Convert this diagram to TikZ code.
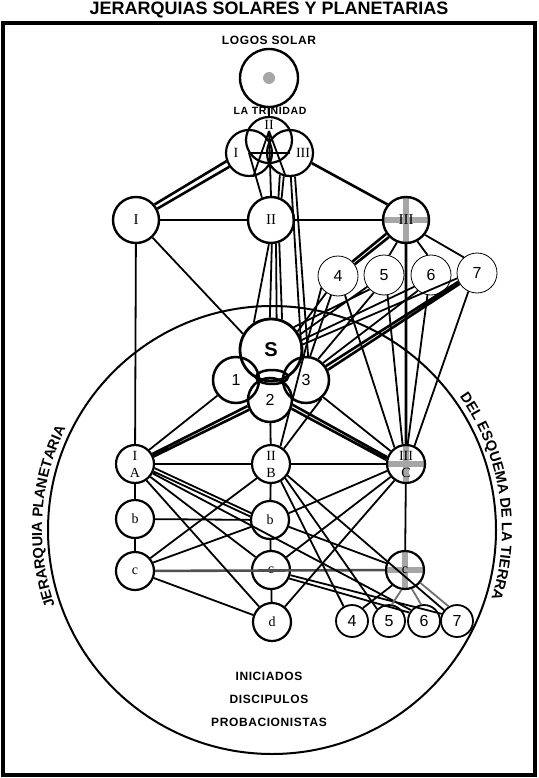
\documentclass[tikz,border=0pt]{standalone}
\usepackage{fontspec}
\setmainfont{Liberation Serif}
\setsansfont{Liberation Sans}
\usetikzlibrary{shapes.geometric,decorations.text}

\definecolor{crossgray}{HTML}{A6A6A6}
\definecolor{heavygray}{HTML}{505050}
\definecolor{softgray}{HTML}{707070}

\tikzset{
  ring/.style={circle, draw, inner sep=0pt},
  hier/.style={ring, line width=2.4pt, minimum size=46pt, font=\fontsize{15}{15}\selectfont},
  trin/.style={ring, line width=2.2pt, minimum size=46pt},
  trinlabel/.style={font=\fontsize{14}{14}\selectfont, inner sep=0pt},
  ray/.style={ring, line width=0.8pt, minimum size=40pt, font=\sffamily\fontsize{16}{16}\selectfont},
  solar/.style={ring, line width=2.5pt, minimum size=46pt, font=\sffamily\fontsize{16}{16}\selectfont},
  plan/.style={ring, line width=2.2pt, minimum size=38pt, align=center, font=\fontsize{14}{17}\selectfont},
  sub/.style={ring, line width=1.8pt, minimum size=32pt, font=\sffamily\fontsize{16}{16}\selectfont},
  crossed/.style={path picture={\draw[crossgray, line width=6.5pt]
      (path picture bounding box.north) -- (path picture bounding box.south)
      (path picture bounding box.west) -- (path picture bounding box.east);}},
  caption/.style={font=\sffamily\bfseries\fontsize{12}{12}\selectfont\addfontfeatures{LetterSpace=5}},
  conn/.style={line width=1.8pt},
  thickconn/.style={line width=2.6pt},
  arctext/.style={decorate, decoration={text along path, text align=center,
      text={|\sffamily\bfseries\fontsize{14.5}{14.5}\selectfont|#1}}}
}

\begin{document}
\begin{tikzpicture}[x=1pt, y=1pt]
\useasboundingbox (0,0) rectangle (538,-778);

% title and frame
\node[font=\sffamily\bfseries\fontsize{18}{20}\selectfont, inner sep=0pt] (title) at (269,-10) {JERARQUIAS SOLARES Y PLANETARIAS};
\draw[line width=3.2pt] (3,-23) rectangle (535,-775);

% solar level
\node[caption] (logoslbl) at (269,-40) {LOGOS SOLAR};
\node[ring, line width=2.4pt, minimum size=58pt] (logos) at (269,-78) {};
\node[circle, fill=crossgray, minimum size=12pt, inner sep=0pt] (core) at (logos) {};
\node[caption, font=\sffamily\bfseries\fontsize{10.5}{10.5}\selectfont\addfontfeatures{LetterSpace=6}] (trinlbl) at (270,-111) {LA TRINIDAD};
\node[trin, label={[trinlabel, yshift=15pt]center:II}] (tII) at (269,-140) {};
\node[trin, label={[trinlabel, xshift=-13pt]center:I}] (tI) at (249,-153) {};
\node[trin, label={[trinlabel, xshift=13pt]center:III}] (tIII) at (290,-153) {};
\coordinate (apex) at (269,-131);

\node[hier] (sI) at (136,-220) {I};
\node[hier] (sII) at (271,-220) {II};
\node[hier, crossed] (sIII) at (406,-220) {III};

\node[ray] (n4) at (338,-276) {4};
\node[ray] (n5) at (384,-275) {5};
\node[ray] (n6) at (431,-275) {6};
\node[ray] (n7) at (477,-273) {7};

% planetary scheme
\coordinate (sc) at (272,-530);
\draw[line width=2pt] (sc) circle[radius=224pt];
\path[arctext={JERARQUIA PLANETARIA}] ([shift={(202:230pt)}]sc) arc[start angle=202, end angle=151, radius=230pt];
\path[arctext={DEL ESQUEMA DE LA TIERRA}] ([shift={(36:230pt)}]sc) arc[start angle=36, end angle=-18, radius=230pt];

\node[solar, line width=2.8pt, minimum size=62pt, font=\sffamily\bfseries\fontsize{20}{20}\selectfont] (S) at (271,-350) {S};
\node[solar] (c1) at (236,-380) {1};
\node[solar] (c3) at (306,-380) {3};
\node[solar, minimum size=44pt] (c2) at (270,-400) {2};
\node[draw, ellipse, line width=2.5pt, minimum width=32pt, minimum height=14pt, inner sep=0pt] (knot) at (272,-377) {};

\node[plan] (pI) at (135,-464) {I\\A};
\node[plan] (pII) at (271,-464) {II\\B};
\node[plan, crossed] (pIII) at (406,-464) {III\\C};
\node[plan] (pb1) at (135,-519) {b};
\node[plan] (pb2) at (270,-520) {b};
\node[plan] (pc1) at (135,-571) {c};
\node[plan] (pc2) at (271,-570) {c};
\node[plan, crossed] (pc3) at (405,-570) {c};
\node[plan] (pd) at (272,-622) {d};
\node[sub] (q4) at (352,-621) {4};
\node[sub] (q5) at (389,-621) {5};
\node[sub] (q6) at (424,-621) {6};
\node[sub] (q7) at (457,-621) {7};

\node[caption] (ini) at (269,-676) {INICIADOS};
\node[caption] (disc) at (269,-699) {DISCIPULOS};
\node[caption] (prob) at (269,-722) {PROBACIONISTAS};

% trinity
\draw[thickconn] (logos.south) -- (tII.north);
\draw[conn] (apex) -- (tI.-80) (apex) -- (tIII.-100) (apex) -- (sII.north);
\draw[conn] (tI.center) -- (tIII.center);
\draw[conn] (tI.center) -- (sII.112);
\draw[conn] (tIII.-115) -- (sII.72) (tIII.-105) -- (sII.64);
\draw[conn] (tIII.-88) -- (c3.100) (tIII.-78) -- (c3.85);
\draw[thickconn] (tI.200) -- (sI.40) (tI.215) -- (sI.28);
\draw[thickconn] (tIII.-25) -- (sIII.140);

% solar hierarchy
\draw[conn] (sI) -- (sII) (sII) -- (sIII) (sI) -- (pI) (sI) -- (S.150);
\draw[conn] (sII.-95) -- (S.122) (sII.-88) -- (S.92) (sII.-78) -- (S.80) (sII.-70) -- (S.70);
\draw[thickconn] (sIII.215) -- (n4.45) (sIII.225) -- (n4.35) (sIII) -- (pIII);
\draw[conn] (sIII.-112) -- (n5.75) (sIII.-62) -- (n6.100) (sIII.-38) -- (n7.130);

% rays
\draw[conn] (n4.235) -- (S.35) (n4.250) -- (c3.80) (n4.215) -- (pII.62) (n4.-70) -- (pIII.125);
\draw[conn] (n5.225) -- (S.45) (n5.215) -- (S.28) (n5.240) -- (c3.60) (n5.-80) -- (pIII.100);
\draw[conn] (n6.215) -- (S.18) (n6.230) -- (c3.45) (n6.-100) -- (pIII.85);
\draw[thickconn] (n7.205) -- (c3.35) (n7.212) -- (c3.25);
\draw[conn] (n7.195) -- (S.10) (n7.-115) -- (pIII.65);

% solar centre to planetary level
\draw[conn] (c1.-140) -- (pI.45) (c2) -- (pII) (c3.-50) -- (pII.50) (c3.-45) -- (pIII.140);
\draw[thickconn] (c2.195) -- (pI.30) (c2.205) -- (pI.22) (c2.-12) -- (pIII.160) (c2.-22) -- (pIII.168);

% planetary hierarchy
\draw[conn] (pI) -- (pII) (pII) -- (pIII) (pI) -- (pb1) (pb1) -- (pc1)
  (pII) -- (pb2) (pb2) -- (pc2) (pc2) -- (pd) (pIII) -- (pc3) (pb1) -- (pb2) (pc1) -- (pd);
\draw[line width=2.6pt, heavygray] (pc1) -- (pc3);
\draw[conn] (pI.-12) -- (pb2.160) (pI.-22) -- (pb2.170) (pI.-28) -- (q6.140)
  (pI.-40) -- (pc2.140) (pI.-55) -- (pd.130);
\draw[conn] (pII.-135) -- (pc1.40) (pb2.-160) -- (pc1.25)
  (pII.-60) -- (q4.120) (pII.-45) -- (q5.135) (pII.-35) -- (q7.140);
\draw[conn] (pIII.-160) -- (pb2.20) (pIII.-140) -- (pc2.40) (pIII.-125) -- (pd.50)
  (pb2.-20) -- (pc3.160) (pc2.-25) -- (q6.150) (pc2.-15) -- (q7.155) (pc3.-130) -- (q4.50);
\draw[conn, softgray] (pc3.-100) -- (q5.80) (pc3.-70) -- (q6.100) (pc3.-40) -- (q7.120);
\end{tikzpicture}
\end{document}
